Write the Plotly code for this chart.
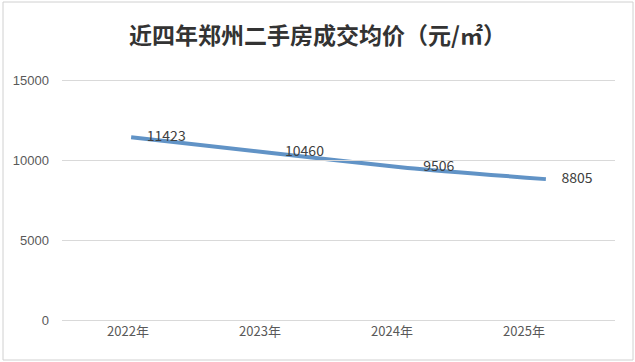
import plotly.graph_objects as go

years = ["2022年", "2023年", "2024年", "2025年"]
prices = [11423, 10460, 9506, 8805]
price_labels = ["11423", "10460", "9506", "8805"]
y_ticks = [0, 5000, 10000, 15000]
title_text = "近四年郑州二手房成交均价（元/㎡）"

W, H = 635, 362
L, R, T, B = 62, 20, 78, 40
pw = W - L - R
ph = H - T - B

fig = go.Figure()
fig.add_trace(go.Scatter(
    x=years, y=prices, mode="lines+text",
    text=["     " + s for s in price_labels], textposition="middle right",
    textfont=dict(family="Noto Sans CJK SC, Arial", size=14, color="#404040"),
    line=dict(color="#6193c6", width=4, shape="spline", smoothing=0.6),
    hoverinfo="skip", showlegend=False, cliponaxis=False,
))
# invisible trace for label axis
fig.add_trace(go.Scatter(x=years, y=prices, xaxis="x2", mode="markers",
                         marker=dict(opacity=0), showlegend=False, hoverinfo="skip"))

fig.update_layout(
    width=W, height=H,
    margin=dict(l=L, r=R, t=T, b=B),
    paper_bgcolor="white", plot_bgcolor="rgba(0,0,0,0)",
    title=dict(text="<b>" + title_text + "</b>", x=0.5, xanchor="center",
               y=1 - 36 / H, yanchor="middle",
               font=dict(family="Noto Sans CJK SC", size=23, color="#333333")),
    xaxis=dict(type="category", categoryorder="array", categoryarray=years, range=[-0.5, 3.5],
               showticklabels=False, showgrid=False, zeroline=False, showline=False, ticks=""),
    xaxis2=dict(type="category", categoryorder="array", categoryarray=years, range=[-0.5, 3.5],
                domain=[0, (590 - L) / pw], anchor="y",
                showgrid=False, zeroline=False, showline=False, ticks="",
                tickfont=dict(family="Noto Sans CJK SC", size=13, color="#595959")),
    yaxis=dict(range=[-125, 15125], tickvals=y_ticks, tickformat="d", showgrid=True,
               gridcolor="#d9d9d9", gridwidth=1,
               zeroline=False, showline=False, ticks="", ticklabelstandoff=12,
               tickfont=dict(family="Arial, Liberation Sans", size=13, color="#595959")),
    font=dict(family="Noto Sans CJK SC"),
)

# outer border
fig.add_shape(type="rect", xref="paper", yref="paper",
              x0=(3 - L) / pw, x1=(633 - L) / pw,
              y0=(H - B - 360) / ph, y1=(H - B - 2) / ph,
              line=dict(color="#d0d0d0", width=1), layer="below")

fig.write_html("out.html", config={"displayModeBar": False},
               post_script="document.body.style.margin='0';document.body.style.overflow='hidden';")
